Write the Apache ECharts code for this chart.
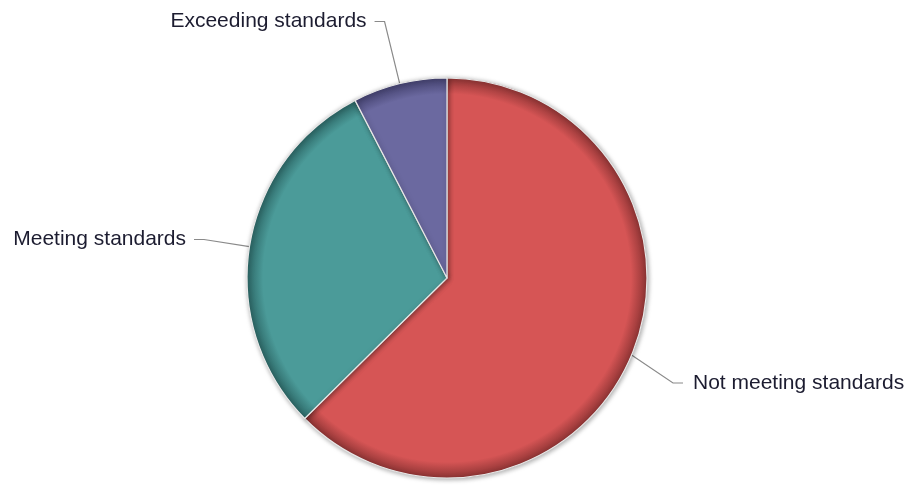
<!DOCTYPE html>
<html>
<head>
<meta charset="utf-8">
<script src="https://cdn.jsdelivr.net/npm/echarts@6/dist/echarts.min.js"></script>
<style>
html,body{margin:0;padding:0;background:#fff;}
#chart{width:913px;height:491px;}
</style>
</head>
<body>
<div id="chart"></div>
<script>
const categories = ['Not meeting standards', 'Meeting standards', 'Exceeding standards'];
const values = [62.6, 29.8, 7.6];
const baseColors = ['#d65555', '#4b9b99', '#6b69a0'];
const edgeColors = ['#8e3434', '#2c6665', '#43416e'];
const lineLengths = [48, 46, 64];

const cx = 447, cy = 278, R = 200;

function grad(i) {
  return {
    type: 'radial', x: cx, y: cy, r: R, global: true,
    colorStops: [
      { offset: 0, color: baseColors[i] },
      { offset: 0.92, color: baseColors[i] },
      { offset: 1, color: edgeColors[i] }
    ]
  };
}

const chart = echarts.init(document.getElementById('chart'));
chart.setOption({
  animation: false,
  series: [{
    type: 'pie',
    center: [cx, cy],
    radius: R,
    startAngle: 90,
    clockwise: true,
    avoidLabelOverlap: false,
    itemStyle: {
      borderColor: '#e8e8e8',
      borderWidth: 1.2,
      shadowBlur: 5,
      shadowColor: 'rgba(0,0,0,0.35)',
      shadowOffsetX: 1,
      shadowOffsetY: 1
    },
    label: {
      show: true,
      formatter: '{b}',
      fontFamily: 'Liberation Sans, Arial, sans-serif',
      fontSize: 21,
      color: '#1c1c30',
      distanceToLabelLine: 8,
      rich: { sp: { width: 10 } }
    },
    labelLine: {
      show: true,
      length2: 10,
      lineStyle: { color: '#8a8a8a', width: 1.2 }
    },
    labelLayout: function (params) {
      if (params.dataIndex === 0) {
        return { x: 683, y: 383, align: 'left', verticalAlign: 'middle' };
      }
      return {};
    },
    data: categories.map((name, i) => ({
      name: name,
      value: values[i],
      itemStyle: { color: grad(i) },
      label: i === 0 ? { formatter: '{sp|}{b}' } : {},
      labelLine: { length: lineLengths[i] }
    }))
  }]
});
</script>
</body>
</html>
